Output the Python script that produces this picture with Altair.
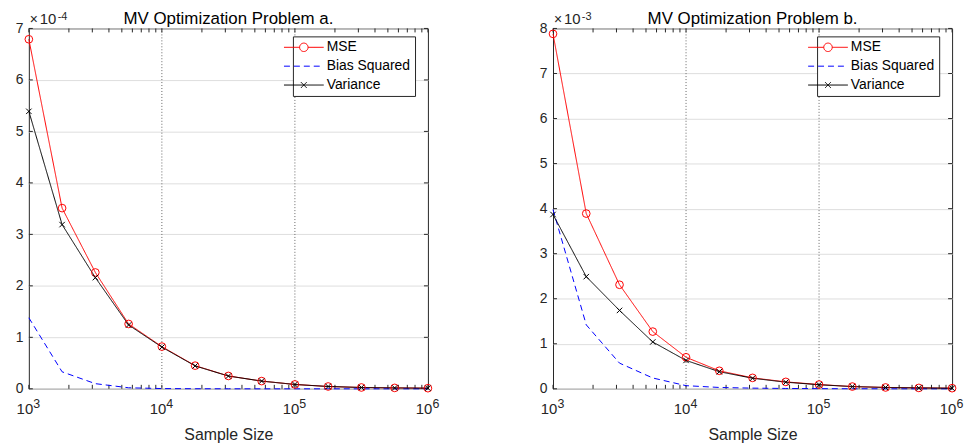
import altair as alt
import pandas as pd

# ---------------- data ----------------
N = [1000, 1778, 3162, 5623, 10000, 17783, 31623, 56234, 100000,
     177828, 316228, 562341, 1000000]

SERIES = ["MSE", "Bias Squared", "Variance"]
COLORS = ["#ff0000", "#0000ff", "#000000"]

# Problem a  (values in units of 1e-4)
MSE_A = [6.79, 3.51, 2.26, 1.26, 0.82, 0.45, 0.25, 0.15, 0.085, 0.045, 0.026, 0.018, 0.012]
BIAS_A = [1.38, 0.33, 0.10, 0.02, 0.005, 0.002, 0.001, 0.0, 0.0, 0.0, 0.0, 0.0, 0.0]
VAR_A = [5.39, 3.19, 2.16, 1.24, 0.81, 0.445, 0.248, 0.15, 0.084, 0.045, 0.026, 0.018, 0.012]

# Problem b  (values in units of 1e-3)
MSE_B = [7.88, 3.89, 2.31, 1.27, 0.70, 0.40, 0.243, 0.154, 0.095, 0.05, 0.03, 0.02, 0.014]
BIAS_B = [3.98, 1.42, 0.57, 0.24, 0.07, 0.03, 0.015, 0.008, 0.004, 0.002, 0.001, 0.0, 0.0]
VAR_B = [3.87, 2.49, 1.74, 1.04, 0.63, 0.38, 0.235, 0.147, 0.09, 0.05, 0.03, 0.02, 0.013]

TITLES = ["MV Optimization Problem a.", "MV Optimization Problem b."]
EXP_TIMES = "\u00d7"
EXP_TEN = "10"
EXP_POWERS = ["-4", "-3"]
Y_MAX = [7, 8]

X_MAJOR = [1e3, 1e4, 1e5, 1e6]
X_POWERS = ["3", "4", "5", "6"]
X_MINOR = [k * 10 ** e for e in (3, 4, 5) for k in range(2, 10)]
X_GRID = [1e4, 1e5]

# ---------------- styling ----------------
W, H = 402, 363
FONT = "Liberation Sans"
AXC = "#262626"
TICK = 4

X_PATH = "M-1,-1L1,1M-1,1L1,-1"
LEG_PATHS = [
    "M-4,0H-0.85M0.85,0H4M0.85,0A0.85,0.85,0,1,1,-0.85,0A0.85,0.85,0,1,1,0.85,0",
    "M-4,0H4",
    "M-4,0H4M-0.6,-0.6L0.6,0.6M-0.6,0.6L0.6,-0.6",
]
DASHES = [[1, 0], [6, 4], [1, 0]]


def text_layer(txt, x, y, size, align="left", color=AXC):
    return alt.Chart(pd.DataFrame({"t": [txt]})).mark_text(
        font=FONT, fontSize=size, color=color, align=align, baseline="alphabetic").encode(
        text="t:N", x=alt.value(x), y=alt.value(y))


def panel(mse, bias, var, ymax, title, power):
    df = pd.DataFrame({
        "n": N * 3,
        "series": [SERIES[0]] * len(N) + [SERIES[1]] * len(N) + [SERIES[2]] * len(N),
        "value": mse + bias + var,
    })
    xs = alt.Scale(type="log", domain=[1e3, 1e6], nice=False)
    ys = alt.Scale(domain=[0, ymax], nice=False, zero=False)
    x_axis = alt.Axis(values=X_MAJOR, labelExpr="'10'", grid=False, ticks=False,
                      domain=False, labelFlush=False, labelFont=FONT, labelFontSize=15,
                      labelColor=AXC, labelPadding=13, labelOffset=-4.5,
                      title="Sample Size",
                      titleFont=FONT, titleFontSize=16, titleFontWeight="normal",
                      titleColor=AXC, titlePadding=10)
    y_axis = alt.Axis(values=list(range(ymax + 1)), format="d", grid=True,
                      gridColor="#dedede", gridWidth=1, ticks=False, domain=False,
                      labelFont=FONT, labelFontSize=14, labelColor=AXC, labelPadding=6,
                      title=None, minExtent=14, maxExtent=14)
    X = alt.X("n:Q", scale=xs, axis=x_axis)
    Y = alt.Y("value:Q", scale=ys, axis=y_axis)

    base = alt.Chart(df)

    vgrid = alt.Chart(pd.DataFrame({"n": X_GRID})).mark_rule(
        color="#666666", strokeDash=[1, 2], strokeWidth=1).encode(x=X)

    xt = alt.Chart(pd.DataFrame({"n": X_MAJOR + X_MINOR}))
    xt_bot = xt.mark_rule(color=AXC, strokeWidth=1).encode(
        x=X, y=alt.value(H), y2=alt.value(H - TICK))
    xt_top = xt.mark_rule(color=AXC, strokeWidth=1).encode(
        x=X, y=alt.value(0), y2=alt.value(TICK))
    yt = alt.Chart(pd.DataFrame({"value": list(range(ymax + 1))}))
    yt_l = yt.mark_rule(color=AXC, strokeWidth=1).encode(
        y=Y, x=alt.value(0), x2=alt.value(TICK))
    yt_r = yt.mark_rule(color=AXC, strokeWidth=1).encode(
        y=Y, x=alt.value(W), x2=alt.value(W - TICK))

    # superscript exponents of the x tick labels (10^3 ... 10^6)
    xpow = alt.Chart(pd.DataFrame({"n": X_MAJOR, "p": X_POWERS})).mark_text(
        font=FONT, fontSize=12.5, color=AXC, align="left", baseline="alphabetic",
        dx=4.5).encode(x=X, y=alt.value(H + 19), text="p:N")

    lines = []
    for s, c, d in zip(SERIES, COLORS, DASHES):
        lines.append(base.transform_filter(alt.datum.series == s).mark_line(
            color=c, strokeDash=d, strokeWidth=1).encode(x=X, y=Y))

    circles = base.transform_filter(alt.datum.series == "MSE").mark_point(
        shape="circle", filled=False, color="#ff0000", size=60, strokeWidth=1,
        opacity=1).encode(x=X, y=Y)
    crosses = base.transform_filter(alt.datum.series == "Variance").mark_point(
        shape=X_PATH, filled=False, color="#000000", size=30, strokeWidth=1,
        opacity=1).encode(x=X, y=Y)

    leg = alt.Legend(title=None, orient="none", legendX=266, legendY=8,
                     fillColor="white", strokeColor=AXC, padding=4,
                     labelFont=FONT, labelFontSize=14, labelColor="#000000",
                     labelOffset=16, rowPadding=5, symbolStrokeWidth=1,
                     symbolSize=100, cornerRadius=0)
    legend_layer = alt.Chart(pd.DataFrame({"series": SERIES})).mark_point(
        filled=False, size=100, strokeWidth=1, opacity=1, clip=True).encode(
        x=alt.value(W - 70), y=alt.value(40),
        color=alt.Color("series:N", scale=alt.Scale(domain=SERIES, range=COLORS), legend=leg),
        shape=alt.Shape("series:N", scale=alt.Scale(domain=SERIES, range=LEG_PATHS), legend=leg),
        strokeDash=alt.StrokeDash("series:N", scale=alt.Scale(domain=SERIES, range=DASHES), legend=leg),
    )

    title_txt = text_layer(title, W / 2, -4, 17, align="center", color="#000000")
    expo_times = text_layer(EXP_TIMES, 1, -4, 14)
    expo_ten = text_layer(EXP_TEN, 11, -4, 15)
    expo_pow = text_layer(power, 29, -9, 11)

    return alt.layer(vgrid, xt_bot, xt_top, yt_l, yt_r, xpow, *lines, circles, crosses,
                     legend_layer, title_txt, expo_times, expo_ten, expo_pow
                     ).properties(width=W, height=H)


pa = panel(MSE_A, BIAS_A, VAR_A, Y_MAX[0], TITLES[0], EXP_POWERS[0])
pb = panel(MSE_B, BIAS_B, VAR_B, Y_MAX[1], TITLES[1], EXP_POWERS[1])

chart = alt.hconcat(pa, pb, spacing=126, bounds="flush").resolve_scale(
    x="independent", y="independent", color="independent",
    shape="independent", strokeDash="independent").resolve_legend(
    color="independent", shape="independent", strokeDash="independent"
).configure(padding={"left": 6, "top": 0, "right": 0, "bottom": 0}, background="white"
).configure_view(stroke=AXC, strokeWidth=1)

chart.save("out.html", embed_options={"renderer": "svg", "actions": False})
